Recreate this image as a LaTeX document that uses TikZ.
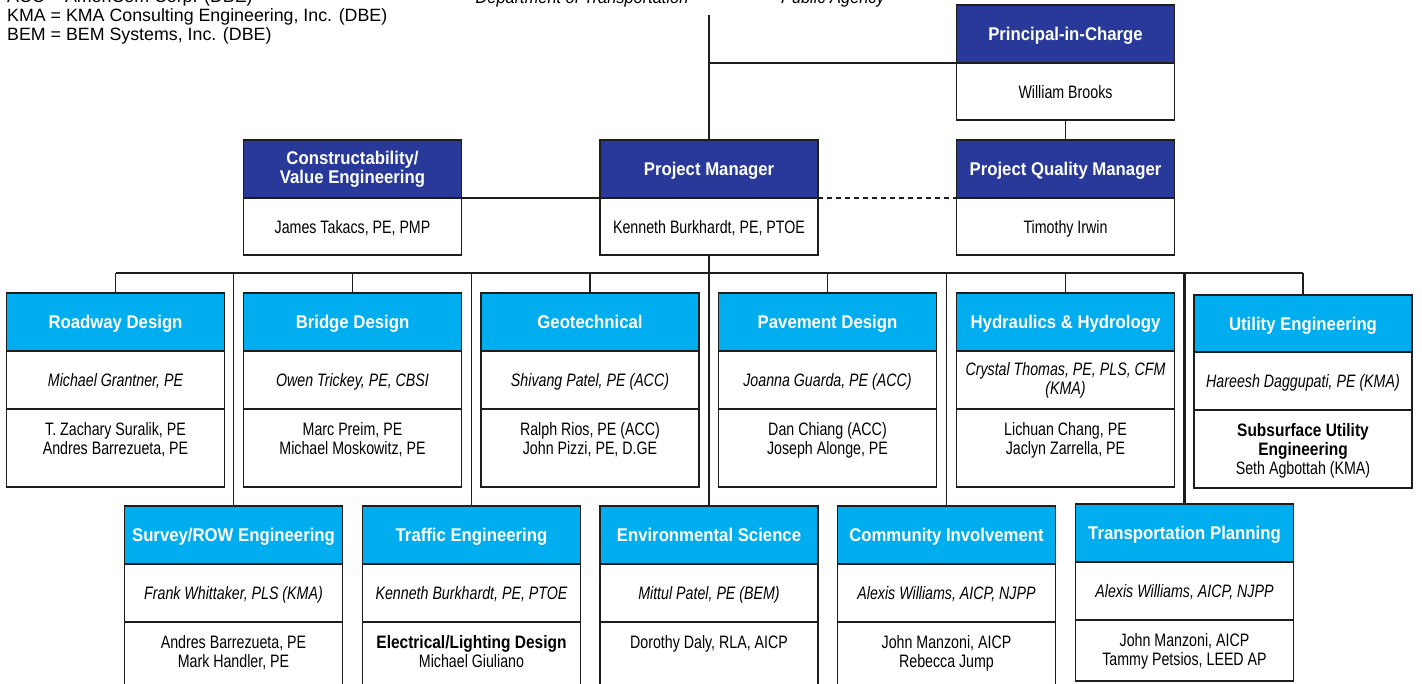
\documentclass[tikz,border=0pt]{standalone}
\usepackage{fontspec}
\newfontfamily\bodyf{Liberation Sans}[FakeStretch=0.79]
\newfontfamily\boldf{Liberation Sans}[FakeStretch=0.86]
\newfontfamily\headf{Liberation Sans}[FakeStretch=0.91]
\newfontfamily\legf{Liberation Sans}
\definecolor{orgnavy}{HTML}{28399A}
\definecolor{orgcyan}{HTML}{00AEEF}
\definecolor{orgline}{HTML}{1E1E1E}

\tikzset{
  box/.style={draw=orgline, line width=1.8pt, minimum width=218pt, inner sep=0pt, outer sep=0pt, align=center},
  capcentre/.style={text height=13pt, text depth=0pt},
  freeheight/.style={text height=, text depth=},
  hdr/.style={box, capcentre, minimum height=58pt, text=white, font=\headf\bfseries\fontsize{18.4}{19}\selectfont},
  mgrhead/.style={hdr, fill=orgnavy},
  depthead/.style={hdr, fill=orgcyan},
  mgrname/.style={box, capcentre, fill=white, minimum height=57pt, font=\bodyf\fontsize{18}{19}\selectfont},
  lead/.style={box, capcentre, fill=white, minimum height=58pt, font=\bodyf\itshape\fontsize{18}{19}\selectfont},
  staffbox/.style={box, fill=white},
  stafftext/.style={inner sep=0pt, outer sep=0pt, align=center, anchor=north, font=\bodyf\fontsize{18}{19}\selectfont},
  link/.style={draw=orgline, line width=1.7pt},
  buslink/.style={draw=orgline, line width=2.6pt},
  legend/.style={inner sep=0pt, anchor=base west, font=\legf\fontsize{17.8}{19}\selectfont},
  agency/.style={inner sep=0pt, anchor=base, font=\headf\itshape\fontsize{18}{19}\selectfont},
}
\newcommand\subhead[1]{{\boldf\bfseries #1}}

% manager box: coloured title over a name cell
\newcommand\mgrunit[5]{%
  \node[mgrhead, #2, anchor=north] (#1) at (#3) {#4};
  \node[mgrname, anchor=north] (#1-l) at (#1.south) {#5};
}
% discipline box: title, lead (italic) and staff cell
\newcommand\orgunit[8]{%
  \node[#2, anchor=north] (#1) at (#3) {#4};
  \node[lead, #6, anchor=north] (#1-l) at (#1.south) {#5};
  \node[staffbox, minimum height=#8, anchor=north] (#1-s) at (#1-l.south) {};
  \node[stafftext] (#1-t) at ([yshift=-13pt]#1-s.north) {#7};
}

\begin{document}
\begin{tikzpicture}[x=1pt, y=-1pt]
\useasboundingbox (0,0) rectangle (1422,683);
\clip (0,0) rectangle (1422,683);

% legend and agency captions
\node[legend] (leg1) at (7,2) {ACC = AmeriCom Corp. (DBE)};
\node[legend] (leg2) at (7,21) {KMA = KMA Consulting Engineering, Inc. (DBE)};
\node[legend] (leg3) at (7,40) {BEM = BEM Systems, Inc. (DBE)};
\node[agency] (dot) at (582,3) {Department of Transportation};
\node[agency] (pub) at (833,3) {Public Agency};

% management
\mgrunit{pic}{}{1065.5,5}{Principal-in-Charge}{William Brooks}
\mgrunit{pqm}{}{1065.5,140}{Project Quality Manager}{Timothy Irwin}
\mgrunit{pm}{}{709,140}{Project Manager}{Kenneth Burkhardt, PE, PTOE}
\mgrunit{cve}{freeheight}{352.5,140}{Constructability/\\Value Engineering}{James Takacs, PE, PMP}

% discipline leads, upper row
\orgunit{rd}{depthead}{115.5,293}{Roadway Design}{Michael Grantner, PE}{}
  {T. Zachary Suralik, PE\\Andres Barrezueta, PE}{78pt}
\orgunit{br}{depthead}{352.5,293}{Bridge Design}{Owen Trickey, PE, CBSI}{}
  {Marc Preim, PE\\Michael Moskowitz, PE}{78pt}
\orgunit{geo}{depthead}{590,293}{Geotechnical}{Shivang Patel, PE (ACC)}{}
  {Ralph Rios, PE (ACC)\\John Pizzi, PE, D.GE}{78pt}
\orgunit{pav}{depthead}{827.5,293}{Pavement Design}{Joanna Guarda, PE (ACC)}{}
  {Dan Chiang (ACC)\\Joseph Alonge, PE}{78pt}
\orgunit{hh}{depthead}{1065.5,293}{Hydraulics \& Hydrology}{Crystal Thomas, PE, PLS, CFM\\(KMA)}{freeheight}
  {Lichuan Chang, PE\\Jaclyn Zarrella, PE}{78pt}
\orgunit{ut}{depthead,minimum height=57pt}{1303,295}{Utility Engineering}{Hareesh Daggupati, PE (KMA)}{}
  {\subhead{Subsurface Utility}\\\subhead{Engineering}\\Seth Agbottah (KMA)}{78pt}

% discipline leads, lower row
\orgunit{sv}{depthead}{233.5,506}{Survey/ROW Engineering}{Frank Whittaker, PLS (KMA)}{}
  {Andres Barrezueta, PE\\Mark Handler, PE}{90pt}
\orgunit{tr}{depthead}{471.5,506}{Traffic Engineering}{Kenneth Burkhardt, PE, PTOE}{}
  {\subhead{Electrical/Lighting Design}\\Michael Giuliano}{90pt}
\orgunit{env}{depthead}{709,506}{Environmental Science}{Mittul Patel, PE (BEM)}{}
  {Dorothy Daly, RLA, AICP}{90pt}
\orgunit{ci}{depthead}{946.5,506}{Community Involvement}{Alexis Williams, AICP, NJPP}{}
  {John Manzoni, AICP\\Rebecca Jump}{90pt}
\orgunit{tp}{depthead}{1184.5,504}{Transportation Planning}{Alexis Williams, AICP, NJPP}{}
  {John Manzoni, AICP\\Tammy Petsios, LEED AP}{61pt}

% reporting lines, management
\coordinate (agencyfoot) at (709,15);
\coordinate (bus) at (709,273);
\draw[link] (agencyfoot) -- (pm.north);
\draw[link] (pm.north |- pic.south west) -- (pic.south west);
\draw[link] (pic-l.south) -- (pqm.north);
\draw[link] (cve.south east) -- (pm.south west);
\draw[link, dash pattern=on 5pt off 4pt] (pm.south east) -- (pqm.south west);
\draw[link] (pm-l.south) -- (bus);

% distribution bus and drops
\draw[buslink] (rd.north |- bus) -- (ut.north |- bus);
\foreach \u in {rd,br,geo,pav,hh,ut,sv,tr,env,ci}
  \draw[link] (\u.north |- bus) -- (\u.north);
\draw[buslink] (tp.north |- bus) -- (tp.north);
\end{tikzpicture}
\end{document}
